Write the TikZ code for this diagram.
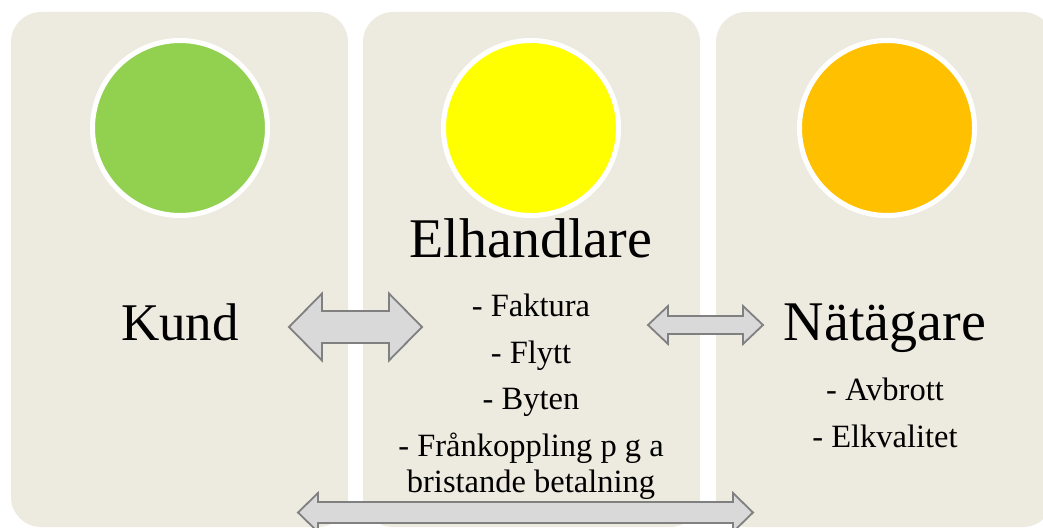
\documentclass[tikz,border=0pt]{standalone}
\usepackage{fontspec}
\setmainfont{Liberation Serif}
\definecolor{panelc}{RGB}{237,235,224}
\definecolor{greenc}{RGB}{146,208,80}
\definecolor{yellowc}{RGB}{255,255,0}
\definecolor{orangec}{RGB}{255,192,0}
\definecolor{arrfill}{RGB}{217,217,217}
\definecolor{arrline}{RGB}{128,128,128}
\tikzset{
  panel/.style={fill=panelc, rounded corners=30pt},
  dot/.style={circle, draw=white, line width=5pt, minimum size=175pt, inner sep=0pt},
  bigtxt/.style={anchor=base, font=\fontsize{54}{60}\selectfont},
  smalltxt/.style={anchor=base, font=\fontsize{32.5}{36}\selectfont},
  blockarrow/.style={fill=arrfill, draw=arrline, line width=1.8pt, line join=miter},
}
% \dblarr{xl}{xr}{y}{headlen}{headhalf}{shafthalf}
\newcommand{\dblarr}[6]{%
  \draw[blockarrow] (#1,#3) -- (#1+#4,#3-#5) -- (#1+#4,#3-#6) -- (#2-#4,#3-#6) -- (#2-#4,#3-#5)
    -- (#2,#3) -- (#2-#4,#3+#5) -- (#2-#4,#3+#6) -- (#1+#4,#3+#6) -- (#1+#4,#3+#5) -- cycle;}
\begin{document}
\begin{tikzpicture}[x=1pt,y=-1pt]
\useasboundingbox (0,0) rectangle (1043,527);
% panels
\fill[panel] (11,12) rectangle (348,527);
\fill[panel] (363,12) rectangle (700,527);
\fill[panel] (716,12) rectangle (1053,527);
% circles
\node[dot, fill=greenc] (c1) at (180,128) {};
\node[dot, fill=yellowc] (c2) at (531,128) {};
\node[dot, fill=orangec] (c3) at (887,128) {};
% titles
\node[bigtxt, font=\fontsize{53}{60}\selectfont] (kund) at (180,340) {Kund};
\node[bigtxt, font=\fontsize{56}{60}\selectfont] (elh) at (531,257) {Elhandlare};
\node[bigtxt, font=\fontsize{56}{60}\selectfont] (nat) at (885,340) {Nätägare};
% middle items
\node[smalltxt] (i1) at (531,316) {- Faktura};
\node[smalltxt] (i2) at (531,363) {- Flytt};
\node[smalltxt] (i3) at (531,409) {- Byten};
\node[smalltxt] (i4) at (531,456) {- Frånkoppling p g a};
\node[smalltxt] (i5) at (531,492) {bristande betalning};
% right items
\node[smalltxt] (r1) at (885,400) {- Avbrott};
\node[smalltxt] (r2) at (885,447) {- Elkvalitet};
% arrows
\dblarr{289}{422}{327}{33}{33.5}{16}
\dblarr{648}{763}{325}{20}{19}{9}
\dblarr{298}{753}{512.5}{20}{19.5}{10.5}
\end{tikzpicture}
\end{document}
